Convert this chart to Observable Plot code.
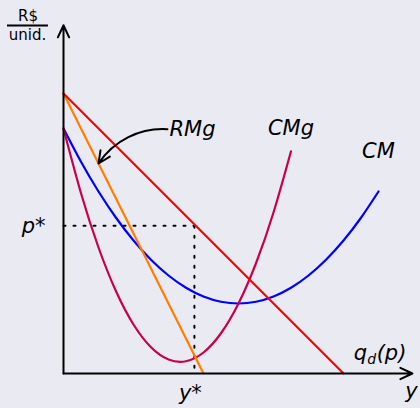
<!DOCTYPE html>
<html>
<head>
<meta charset="utf-8">
<script src="https://cdn.jsdelivr.net/npm/d3@7"></script>
<script src="https://cdn.jsdelivr.net/npm/@observablehq/plot@0.6"></script>
<style>
  html, body { margin: 0; padding: 0; background: #eaeaf2; }
</style>
</head>
<body>
<div id="chart"></div>
<script>
// Quantity values (q) and curve values
const demandQ = [0, 8];
const demandP = [8, 0];
const mrQ = [0, 4];
const mrP = [8, 0];
const mcQ = [0, 0.5, 1, 1.5, 2, 2.5, 3, 3.5, 4, 4.5, 5, 5.5, 6, 6.5];
const mcP = [7, 5.15, 3.6, 2.35, 1.4, 0.75, 0.4, 0.35, 0.6, 1.15, 2, 3.15, 4.6, 6.35];
const acQ = [0, 0.5, 1, 1.5, 2, 2.5, 3, 3.5, 4, 4.5, 5, 5.5, 6, 6.5, 7, 7.5, 8, 8.5, 9];
const acP = [7, 6.05, 5.2, 4.45, 3.8, 3.25, 2.8, 2.45, 2.2, 2.05, 2, 2.05, 2.2, 2.45, 2.8, 3.25, 3.8, 4.45, 5.2];
const yStar = 3.74;
const pStar = 4.22;
const curveLabels = ["RMg", "CMg", "CM"];
const axisLabels = ["R$", "unid.", "p*", "y*", "y"];

const zip = (qs, ps) => qs.map((q, i) => ({q, p: ps[i]}));
const demand = zip(demandQ, demandP);
const mr = zip(mrQ, mrP);
const mc = zip(mcQ, mcP);
const ac = zip(acQ, acP);
const mcEnd = mc[mc.length - 1];
const acEnd = ac[ac.length - 1];

const font = "DejaVu Sans";
const lab = {fontFamily: font, fontStyle: "italic", fontSize: 21, fill: "black"};

const chart = Plot.plot({
  width: 420,
  height: 408,
  margin: 0,
  style: {background: "#eaeaf2", overflow: "visible"},
  x: {domain: [0, 10], range: [63, 413], axis: null},
  y: {domain: [0, 10], range: [373, 23], axis: null},
  marks: [
    // dotted guides
    Plot.line([{q: 0, p: pStar}, {q: yStar, p: pStar}], {x: "q", y: "p", stroke: "black", strokeWidth: 2, strokeDasharray: "2 8"}),
    Plot.line([{q: yStar, p: pStar}, {q: yStar, p: 0}], {x: "q", y: "p", stroke: "black", strokeWidth: 2, strokeDasharray: "2 8"}),
    // curves
    Plot.line(ac, {x: "q", y: "p", stroke: "#0000ff", strokeWidth: 2.2, curve: "natural"}),
    Plot.line(mc, {x: "q", y: "p", stroke: "#c8004b", strokeWidth: 2.2, curve: "natural"}),
    Plot.line(mr, {x: "q", y: "p", stroke: "#ff8000", strokeWidth: 2.2}),
    Plot.line(demand, {x: "q", y: "p", stroke: "#ff0000", strokeWidth: 2.2}),
    // axes
    Plot.arrow([{x1: 0, y1: 0, x2: 0, y2: 9.95}], {x1: "x1", y1: "y1", x2: "x2", y2: "y2", stroke: "black", strokeWidth: 2, headLength: 10, headAngle: 50}),
    Plot.arrow([{x1: 0, y1: 0, x2: 9.97, y2: 0}], {x1: "x1", y1: "y1", x2: "x2", y2: "y2", stroke: "black", strokeWidth: 2, headLength: 10, headAngle: 50}),
    // annotation arrow to MR
    Plot.arrow([{x1: 2.97, y1: 6.98, x2: 1.0, y2: 6.0}], {x1: "x1", y1: "y1", x2: "x2", y2: "y2", stroke: "black", strokeWidth: 2, bend: -30, headLength: 10, headAngle: 50}),
    // curve labels
    Plot.text([curveLabels[0]], {x: 3.0, y: 6.97, text: d => d, textAnchor: "start", lineAnchor: "middle", dx: 1, ...lab}),
    Plot.text([curveLabels[1]], {x: mcEnd.q, y: mcEnd.p, text: d => d, textAnchor: "middle", lineAnchor: "bottom", dy: -16, ...lab}),
    Plot.text([curveLabels[2]], {x: acEnd.q, y: acEnd.p, text: d => d, textAnchor: "middle", lineAnchor: "bottom", dy: -34, ...lab}),
    // demand label q_d(p)
    Plot.text(["q"], {x: 8.29, y: 0, text: d => d, textAnchor: "start", lineAnchor: "bottom", dy: -14, ...lab}),
    Plot.text(["d"], {x: 8.29, y: 0, text: d => d, textAnchor: "start", lineAnchor: "bottom", dx: 13.5, dy: -10, fontFamily: font, fontStyle: "italic", fontSize: 14, fill: "black"}),
    Plot.text(["(p)"], {x: 8.29, y: 0, text: d => d, textAnchor: "start", lineAnchor: "bottom", dx: 23, dy: -14, ...lab}),
    // axis labels
    Plot.text([axisLabels[2]], {x: 0, y: pStar, text: d => d, textAnchor: "end", lineAnchor: "middle", dx: -18, ...lab}),
    Plot.text([axisLabels[3]], {x: yStar, y: 0, text: d => d, textAnchor: "middle", lineAnchor: "top", dx: -4, dy: 12, ...lab}),
    Plot.text([axisLabels[4]], {x: 9.97, y: 0, text: d => d, textAnchor: "middle", lineAnchor: "top", dx: -1, dy: 10, ...lab}),
    Plot.text([axisLabels[0]], {x: 0, y: 9.95, text: d => d, textAnchor: "middle", lineAnchor: "bottom", dx: -35.5, dy: -4, fontFamily: font, fontSize: 15, fill: "black"}),
    Plot.text([axisLabels[1]], {x: 0, y: 9.95, text: d => d, textAnchor: "middle", lineAnchor: "bottom", dx: -36, dy: 15, fontFamily: font, fontSize: 15, fill: "black"}),
    Plot.ruleY([9.94], {x1: -1.6, x2: -0.43, stroke: "black", strokeWidth: 2})
  ]
});
document.getElementById("chart").appendChild(chart);
</script>
</body>
</html>
